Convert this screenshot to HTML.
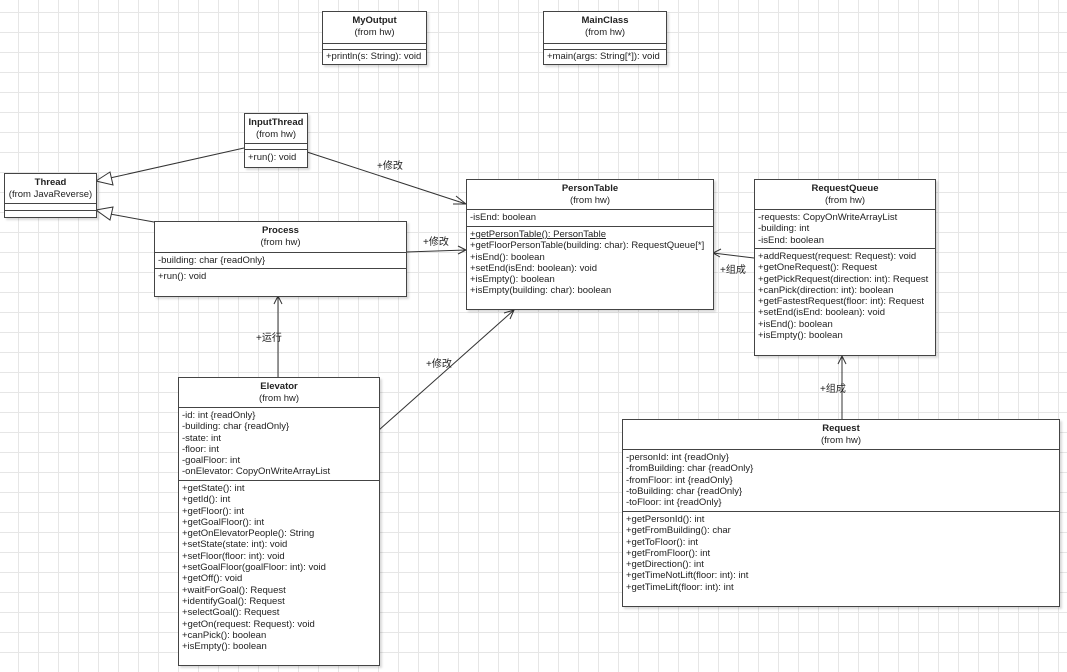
<!DOCTYPE html>
<html><head><meta charset="utf-8"><style>
html,body{margin:0;padding:0}
body{width:1067px;height:672px;position:relative;overflow:hidden;background-color:#fff;
background-image:linear-gradient(to right,#e6e6e6 1px,transparent 1px),linear-gradient(to bottom,#e6e6e6 1px,transparent 1px);
background-size:20px 20px;background-position:18px 12px;
font-family:"Liberation Sans","Noto Sans CJK SC",sans-serif;font-size:9.5px;color:#222}
.b{position:absolute;border:1px solid #444;background:#fff;box-shadow:2px 2px 2px rgba(0,0,0,.15);box-sizing:border-box}
.h{text-align:center;border-bottom:1px solid #444;box-sizing:border-box;padding-top:3px;line-height:11.5px}
.h b{font-weight:bold;font-size:9.5px}
.s{border-bottom:1px solid #444;box-sizing:border-box;padding:2px 0 0 3px;line-height:11.3px;white-space:nowrap}
.s:last-child{border-bottom:none}
svg{position:absolute;left:0;top:0}
.l{position:absolute;font-size:10px;white-space:nowrap}
</style></head><body>
<svg width="1067" height="672">
<g stroke="#333" stroke-width="1" fill="none">
<line x1="244" y1="148" x2="110" y2="178"/>
<polygon points="96,181 110,172 113,185" fill="#fff"/>
<line x1="154" y1="222" x2="110" y2="214"/>
<polygon points="96,210 113,207 110,220" fill="#fff"/>
<line x1="307" y1="152" x2="466" y2="204"/>
<polyline points="456,196 466,204 453,204"/>
<line x1="406" y1="252" x2="466" y2="250"/>
<polyline points="458,246 466,250 458,254"/>
<line x1="278" y1="377" x2="278" y2="296"/>
<polyline points="274,304 278,296 282,304"/>
<line x1="379" y1="430" x2="514" y2="310"/>
<polyline points="504,313 514,310 510,319"/>
<line x1="754" y1="258" x2="713" y2="253"/>
<polyline points="721,249 713,253 720,257"/>
<line x1="842" y1="419" x2="842" y2="356"/>
<polyline points="838,364 842,356 846,364"/>
</g></svg>
<div class="l" style="left:377px;top:157px">+修改</div>
<div class="l" style="left:423px;top:233px">+修改</div>
<div class="l" style="left:256px;top:329px">+运行</div>
<div class="l" style="left:426px;top:355px">+修改</div>
<div class="l" style="left:720px;top:261px">+组成</div>
<div class="l" style="left:820px;top:380px">+组成</div>

<div class="b" style="left:322px;top:11px;width:105px;height:54px">
<div class="h" style="height:32px"><b>MyOutput</b><br>(from hw)</div>
<div class="s" style="height:6px;padding:0"></div>
<div class="s" style="padding-top:1px">+println(s: String): void</div></div>

<div class="b" style="left:543px;top:11px;width:124px;height:54px">
<div class="h" style="height:32px"><b>MainClass</b><br>(from hw)</div>
<div class="s" style="height:6px;padding:0"></div>
<div class="s" style="padding-top:1px">+main(args: String[*]): void</div></div>

<div class="b" style="left:244px;top:113px;width:64px;height:55px">
<div class="h" style="height:30px"><b>InputThread</b><br>(from hw)</div>
<div class="s" style="height:6px;padding:0"></div>
<div class="s">+run(): void</div></div>

<div class="b" style="left:4px;top:173px;width:93px;height:45px">
<div class="h" style="height:30px"><b>Thread</b><br>(from JavaReverse)</div>
<div class="s" style="height:7px;padding:0"></div>
<div class="s" style="padding:0"></div></div>

<div class="b" style="left:154px;top:221px;width:253px;height:76px">
<div class="h" style="height:31px"><b>Process</b><br>(from hw)</div>
<div class="s" style="height:16px">-building: char {readOnly}</div>
<div class="s">+run(): void</div></div>

<div class="b" style="left:466px;top:179px;width:248px;height:131px">
<div class="h" style="height:30px"><b>PersonTable</b><br>(from hw)</div>
<div class="s" style="height:17px">-isEnd: boolean</div>
<div class="s"><u>+getPersonTable(): PersonTable</u><br>+getFloorPersonTable(building: char): RequestQueue[*]<br>+isEnd(): boolean<br>+setEnd(isEnd: boolean): void<br>+isEmpty(): boolean<br>+isEmpty(building: char): boolean</div></div>

<div class="b" style="left:754px;top:179px;width:182px;height:177px">
<div class="h" style="height:30px"><b>RequestQueue</b><br>(from hw)</div>
<div class="s" style="height:39px">-requests: CopyOnWriteArrayList<br>-building: int<br>-isEnd: boolean</div>
<div class="s">+addRequest(request: Request): void<br>+getOneRequest(): Request<br>+getPickRequest(direction: int): Request<br>+canPick(direction: int): boolean<br>+getFastestRequest(floor: int): Request<br>+setEnd(isEnd: boolean): void<br>+isEnd(): boolean<br>+isEmpty(): boolean</div></div>

<div class="b" style="left:178px;top:377px;width:202px;height:289px">
<div class="h" style="height:30px"><b>Elevator</b><br>(from hw)</div>
<div class="s" style="height:73px">-id: int {readOnly}<br>-building: char {readOnly}<br>-state: int<br>-floor: int<br>-goalFloor: int<br>-onElevator: CopyOnWriteArrayList</div>
<div class="s">+getState(): int<br>+getId(): int<br>+getFloor(): int<br>+getGoalFloor(): int<br>+getOnElevatorPeople(): String<br>+setState(state: int): void<br>+setFloor(floor: int): void<br>+setGoalFloor(goalFloor: int): void<br>+getOff(): void<br>+waitForGoal(): Request<br>+identifyGoal(): Request<br>+selectGoal(): Request<br>+getOn(request: Request): void<br>+canPick(): boolean<br>+isEmpty(): boolean</div></div>

<div class="b" style="left:622px;top:419px;width:438px;height:188px">
<div class="h" style="height:30px"><b>Request</b><br>(from hw)</div>
<div class="s" style="height:62px">-personId: int {readOnly}<br>-fromBuilding: char {readOnly}<br>-fromFloor: int {readOnly}<br>-toBuilding: char {readOnly}<br>-toFloor: int {readOnly}</div>
<div class="s">+getPersonId(): int<br>+getFromBuilding(): char<br>+getToFloor(): int<br>+getFromFloor(): int<br>+getDirection(): int<br>+getTimeNotLift(floor: int): int<br>+getTimeLift(floor: int): int</div></div>
</body></html>
